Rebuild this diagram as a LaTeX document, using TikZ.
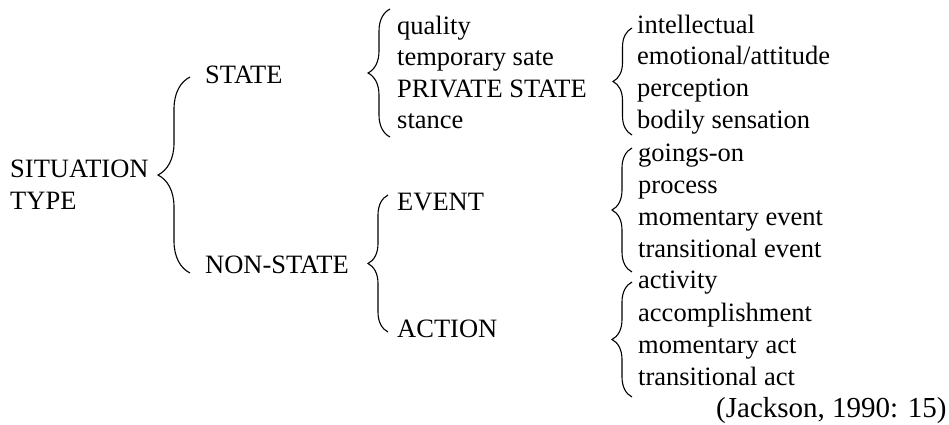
\documentclass[tikz,border=0pt]{standalone}
\usepackage{fontspec}
\setmainfont{Liberation Serif}
\usetikzlibrary{decorations.pathreplacing, positioning}

\begin{document}
\begin{tikzpicture}[
    x=1pt, y=-1pt,
    entry/.style={anchor=base west, inner sep=0pt, font=\rmfamily\fontsize{26.5}{31.5}\selectfont},
    brace/.style={decorate, decoration={brace, amplitude=#1}, line width=1.1pt},
    brace/.default=20
]
\useasboundingbox (0,0) rectangle (949,424);

% first level
\node[entry, anchor=west, align=left] (sit) at (10,184.5) {SITUATION\\TYPE};
\node[entry] (state) at (205,83) {STATE};
\node[entry] (nonstate) at (205,273) {NON-STATE};

% state branch
\node[entry] (quality) at (397,34) {quality};
\node[entry] (temp) at (397,65.5) {temporary sate};
\node[entry] (private) at (397,97) {PRIVATE STATE};
\node[entry] (stance) at (397,128.5) {stance};

\node[entry] (intel) at (637,33) {intellectual};
\node[entry] (emot) at (637,64.5) {emotional/attitude};
\node[entry] (percep) at (637,96.5) {perception};
\node[entry] (bodily) at (637,128) {bodily sensation};

% non-state branch
\node[entry] (event) at (397,210) {EVENT};
\node[entry] (action) at (397,337) {ACTION};

\node[entry] (goings) at (638,161.5) {goings-on};
\node[entry] (process) at (638,193.3) {process};
\node[entry] (momevent) at (638,225) {momentary event};
\node[entry] (transevent) at (638,257) {transitional event};

\node[entry] (activity) at (638,288.3) {activity};
\node[entry] (accomp) at (638,321.5) {accomplishment};
\node[entry] (momact) at (638,353) {momentary act};
\node[entry] (transact) at (638,385) {transitional act};

\node[entry, font=\rmfamily\fontsize{29}{34}\selectfont] (source) at (716,417) {(Jackson, 1990: 15)};

% brace ends
\coordinate (sitT) at (190,77);    \coordinate (sitB) at (190,273);
\coordinate (stateT) at (390,9);   \coordinate (stateB) at (390,137);
\coordinate (privT) at (632,28);   \coordinate (privB) at (632,135);
\coordinate (nonT) at (388,195);   \coordinate (nonB) at (388,332);
\coordinate (eventT) at (632,148); \coordinate (eventB) at (632,272);
\coordinate (actT) at (632,282);   \coordinate (actB) at (632,397);

\draw[brace=32] (sitB) -- (sitT);
\draw[brace=22] (stateB) -- (stateT);
\draw[brace=19] (privB) -- (privT);
\draw[brace] (nonB) -- (nonT);
\draw[brace] (eventB) -- (eventT);
\draw[brace] (actB) -- (actT);

\end{tikzpicture}
\end{document}
